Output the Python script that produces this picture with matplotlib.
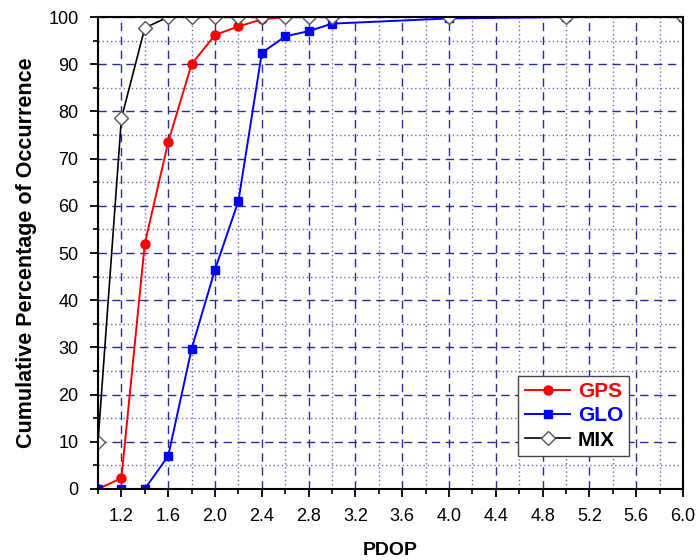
import matplotlib
matplotlib.use('Agg')
import matplotlib.pyplot as plt
from matplotlib.ticker import MultipleLocator

plt.rcParams['font.family'] = ['Liberation Sans', 'DejaVu Sans']

# cumulative PDOP distributions
pdop_gps = [1.0, 1.2, 1.4, 1.6, 1.8, 2.0, 2.2, 2.4, 2.6]
cum_gps = [0.0, 2.3, 52.0, 73.5, 90.0, 96.2, 98.0, 99.5, 100.0]

pdop_glo = [1.0, 1.2, 1.4, 1.6, 1.8, 2.0, 2.2, 2.4, 2.6, 2.8, 3.0, 4.0, 5.0, 6.0]
cum_glo = [0.0, 0.0, 0.0, 7.0, 29.7, 46.5, 61.0, 92.4, 95.9, 97.0, 98.6, 99.7, 100.0, 100.0]

pdop_mix = [1.0, 1.2, 1.4, 1.6, 1.8, 2.0, 2.2, 2.4, 2.6, 2.8, 3.0, 4.0, 5.0, 6.0]
cum_mix = [10.0, 78.5, 97.7, 100.0, 100.0, 100.0, 100.0, 100.0, 100.0, 100.0, 100.0, 100.0, 100.0, 100.0]

xticks = [1.2 + 0.4 * i for i in range(13)]

fig = plt.figure(figsize=(6.97, 5.6), dpi=100)
ax = fig.add_axes([0.1406, 0.1268, 0.8394, 0.8428])

ax.plot(pdop_gps, cum_gps, '-', color='red', lw=1.4, marker='o', ms=6.5, label='GPS')
ax.plot(pdop_glo, cum_glo, '-', color='blue', lw=1.4, marker='s', ms=6, label='GLO')
ax.plot(pdop_mix, cum_mix, '-', color='black', lw=1.2, marker='D', ms=7,
        mfc='white', mec='#555555', mew=1.0, label='MIX')

ax.set_xlim(1.0, 6.0)
ax.set_ylim(0, 100)
ax.xaxis.set_minor_locator(MultipleLocator(0.2))
ax.yaxis.set_major_locator(MultipleLocator(10))
ax.yaxis.set_minor_locator(MultipleLocator(5))
ax.set_xticks(xticks)
ax.set_xticklabels(['%.1f' % v for v in xticks])

ax.grid(which='major', color='#2a2a9a', linestyle=(0, (6, 4)), lw=1.0)
ax.grid(which='minor', color='#6a6ad0', linestyle=(0, (1, 2)), lw=1.0)
ax.set_axisbelow(True)

ax.tick_params(which='major', direction='out', length=6, width=1.3,
               labelsize=13, colors='black', pad=8)
ax.tick_params(which='minor', direction='out', length=3.5, width=1.2)
for s in ax.spines.values():
    s.set_linewidth(1.5)

ax.set_xlabel('PDOP', fontsize=14, fontweight='bold', labelpad=12)
ax.set_ylabel('Cumulative Percentage of Occurrence', fontsize=15.5, fontweight='bold', labelpad=8)

leg = ax.legend(loc='lower right', bbox_to_anchor=(0.908, 0.07),
                prop={'weight': 'bold', 'size': 15}, labelcolor=['red', 'blue', 'black'],
                fancybox=False, edgecolor='#444444', framealpha=1,
                handlelength=2.2, handletextpad=0.35, borderpad=0.3, labelspacing=0.25,
                borderaxespad=0)
leg.get_frame().set_linewidth(1.0)

fig.savefig('out.png', dpi=100)
